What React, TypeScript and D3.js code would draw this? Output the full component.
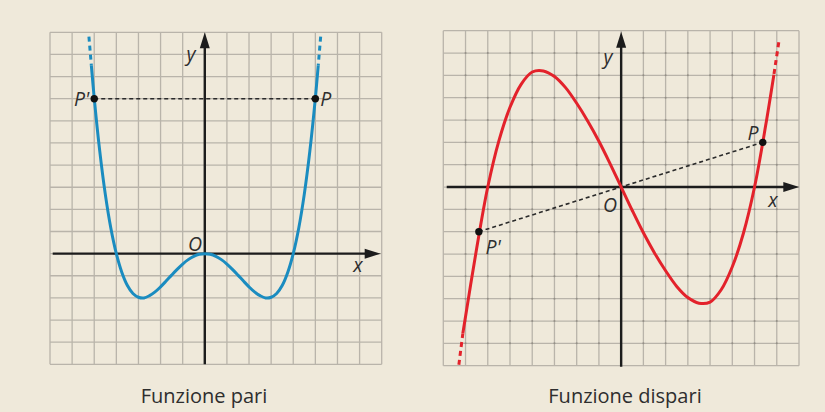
import React from "react";
import * as d3 from "d3";

// ---------- data ----------
// Left panel: even function
const evenX = [-5.13, -5.0, -4.75, -4.5, -4.25, -4.0, -3.75, -3.5, -3.25, -3.0, -2.75, -2.5, -2.25, -2.0, -1.75, -1.5, -1.25, -1.0, -0.75, -0.5, -0.25, 0, 0.25, 0.5, 0.75, 1.0, 1.25, 1.5, 1.75, 2.0, 2.25, 2.5, 2.75, 3.0, 3.25, 3.5, 3.75, 4.0, 4.25, 4.5, 4.75, 5.0, 5.13];
const evenY = [8.5, 7.03, 4.63, 2.69, 1.16, 0, -0.85, -1.44, -1.8, -1.97, -2.0, -1.9, -1.73, -1.5, -1.24, -0.97, -0.71, -0.47, -0.27, -0.12, -0.03, 0, -0.03, -0.12, -0.27, -0.47, -0.71, -0.97, -1.24, -1.5, -1.73, -1.9, -2.0, -1.97, -1.8, -1.44, -0.85, 0, 1.16, 2.69, 4.63, 7.03, 8.5];
const evenDottedL = [[-5.24, 9.8], [-5.13, 8.5]];
const evenDottedR = [[5.24, 9.8], [5.13, 8.5]];
const evenP = [5, 7];
const evenPp = [-5, 7];

// Right panel: odd function
const oddX = [-7.12, -6.5, -6.0, -5.5, -5.0, -4.5, -4.0, -3.5, -3.0, -2.5, -2.0, -1.5, -1.0, -0.5, 0, 0.5, 1.0, 1.5, 2.0, 2.5, 3.0, 3.5, 4.0, 4.5, 5.0, 5.5, 6.0, 6.5, 6.87];
const oddY = [-6.55, -2.75, 0, 2.07, 3.57, 4.6, 5.15, 5.2, 4.95, 4.45, 3.75, 2.95, 2.05, 1.05, 0, -1.05, -2.05, -2.95, -3.75, -4.45, -4.95, -5.2, -5.15, -4.6, -3.57, -2.07, 0, 2.75, 5.03];
const oddDottedL = [[-7.3, -7.96], [-7.12, -6.55]];
const oddDottedR = [[7.09, 6.48], [6.87, 5.03]];
const oddP = [6.37, 2.0];
const oddPp = [-6.4, -2.0];

const leftDomainX = [-7, 8];
const leftDomainY = [-5, 10];
const rightDomainX = [-8, 8];
const rightDomainY = [-8, 7];

const captions = ["Funzione pari", "Funzione dispari"];

// ---------- style ----------
const BG = "#efe9da";
const GRID = "#b9b4aa";
const AXIS = "#1c1c1c";
const BLUE = "#1a8cc0";
const RED = "#e3222b";
const TEXT = "#2e2e2e";
const FONT = "'Open Sans', 'Noto Sans', sans-serif";

type Scale = d3.ScaleLinear<number, number>;

function Grid({ x, y, dx, dy, dots }: { x: Scale; y: Scale; dx: number[]; dy: number[]; dots?: boolean }) {
  const xs = d3.range(dx[0], dx[1] + 1);
  const ys = d3.range(dy[0], dy[1] + 1);
  return (
    <g>
      {xs.map((v) => (
        <line key={"vx" + v} x1={x(v)} x2={x(v)} y1={y(dy[0])} y2={y(dy[1])} stroke={GRID} strokeWidth={1.3} />
      ))}
      {ys.map((v) => (
        <line key={"hy" + v} y1={y(v)} y2={y(v)} x1={x(dx[0])} x2={x(dx[1])} stroke={GRID} strokeWidth={1.3} />
      ))}
      {dots &&
        xs.slice(1, -1).map((a) =>
          ys.slice(1, -1).map((b) => <circle key={a + "_" + b} cx={x(a)} cy={y(b)} r={1} fill="#948f86" />)
        )}
    </g>
  );
}

function Axes({ x, y, x0, x1, y0, y1 }: { x: Scale; y: Scale; x0: number; x1: number; y0: number; y1: number }) {
  const ox = x(0);
  const oy = y(0);
  const L = 16;
  const W = 5;
  return (
    <g>
      <line x1={x0} x2={x1 - L + 2} y1={oy} y2={oy} stroke={AXIS} strokeWidth={2.4} />
      <path d={`M${x1},${oy} L${x1 - L},${oy - W} L${x1 - L},${oy + W} Z`} fill={AXIS} />
      <line x1={ox} x2={ox} y1={y0} y2={y1 + L - 2} stroke={AXIS} strokeWidth={2.4} />
      <path d={`M${ox},${y1} L${ox - W},${y1 + L} L${ox + W},${y1 + L} Z`} fill={AXIS} />
    </g>
  );
}

function Label({ x, y, t, anchor = "middle" }: { x: number; y: number; t: string; anchor?: string }) {
  return (
    <text x={x} y={y} fontFamily={FONT} fontStyle="italic" fontSize={19.5} fill={TEXT} textAnchor={anchor as any} dominantBaseline="central">
      {t}
    </text>
  );
}

export default function App() {
  const lx = d3.scaleLinear().domain(leftDomainX).range([50, 381.7]);
  const ly = d3.scaleLinear().domain(leftDomainY).range([364.3, 32.3]);
  const rx = d3.scaleLinear().domain(rightDomainX).range([443.3, 799]);
  const ry = d3.scaleLinear().domain(rightDomainY).range([365.7, 30.7]);

  const lineL = d3.line<number[]>().x((d) => lx(d[0])).y((d) => ly(d[1])).curve(d3.curveCatmullRom.alpha(0.5));
  const lineR = d3.line<number[]>().x((d) => rx(d[0])).y((d) => ry(d[1])).curve(d3.curveCatmullRom.alpha(0.5));
  const segL = d3.line<number[]>().x((d) => lx(d[0])).y((d) => ly(d[1]));
  const segR = d3.line<number[]>().x((d) => rx(d[0])).y((d) => ry(d[1]));

  const evenPts = evenX.map((v, i) => [v, evenY[i]]);
  const oddPts = oddX.map((v, i) => [v, oddY[i]]);

  return (
    <div style={{ position: "fixed", left: 0, top: 0 }}>
      <svg width={825} height={412} style={{ display: "block" }}>
        <rect x={0} y={0} width={825} height={412} fill={BG} />

        {/* Left panel */}
        <Grid x={lx} y={ly} dx={leftDomainX} dy={leftDomainY} />
        <Axes x={lx} y={ly} x0={52.7} x1={380.7} y0={364.3} y1={32.3} />
        <path d={segL([evenPp, evenP]) || ""} stroke="#2a2a2a" strokeWidth={1.6} strokeDasharray="4,3" fill="none" />
        <path d={lineL(evenPts) || ""} stroke={BLUE} strokeWidth={3} fill="none" strokeLinejoin="round" />
        <path d={segL(evenDottedL) || ""} stroke={BLUE} strokeWidth={3} fill="none" strokeDasharray="5,4" />
        <path d={segL(evenDottedR) || ""} stroke={BLUE} strokeWidth={3} fill="none" strokeDasharray="5,4" />
        <circle cx={lx(evenP[0])} cy={ly(evenP[1])} r={3.7} fill="#111" />
        <circle cx={lx(evenPp[0])} cy={ly(evenPp[1])} r={3.7} fill="#111" />
        <Label x={191} y={53} t="y" />
        <Label x={358} y={264} t="x" />
        <Label x={195} y={243} t="O" />
        <Label x={lx(evenPp[0]) - 5} y={98} t="P'" anchor="end" />
        <Label x={lx(evenP[0]) + 5} y={98} t="P" anchor="start" />

        {/* Right panel */}
        <Grid x={rx} y={ry} dx={rightDomainX} dy={rightDomainY} dots />
        <Axes x={rx} y={ry} x0={446.7} x1={799.3} y0={366.7} y1={31.7} />
        <path d={segR([oddPp, oddP]) || ""} stroke="#2a2a2a" strokeWidth={1.6} strokeDasharray="4,3" fill="none" />
        <path d={lineR(oddPts) || ""} stroke={RED} strokeWidth={3} fill="none" strokeLinejoin="round" />
        <path d={segR(oddDottedL) || ""} stroke={RED} strokeWidth={3} fill="none" strokeDasharray="5,4" />
        <path d={segR(oddDottedR) || ""} stroke={RED} strokeWidth={3} fill="none" strokeDasharray="5,4" />
        <circle cx={rx(oddP[0])} cy={ry(oddP[1])} r={3.7} fill="#111" />
        <circle cx={rx(oddPp[0])} cy={ry(oddPp[1])} r={3.7} fill="#111" />
        <Label x={608} y={56} t="y" />
        <Label x={773} y={199} t="x" />
        <Label x={610} y={204} t="O" />
        <Label x={753} y={132} t="P" />
        <Label x={493} y={246} t="P'" />

        {/* captions */}
        <text x={204} y={395} fontFamily={FONT} fontSize={20} fill={TEXT} textAnchor="middle" dominantBaseline="central">
          {captions[0]}
        </text>
        <text x={625} y={395} fontFamily={FONT} fontSize={20} fill={TEXT} textAnchor="middle" dominantBaseline="central">
          {captions[1]}
        </text>
      </svg>
    </div>
  );
}
